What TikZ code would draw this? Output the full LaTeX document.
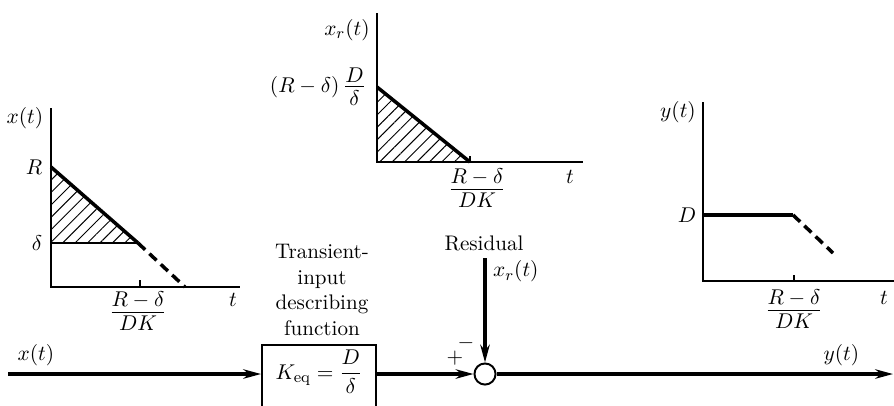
\documentclass[tikz,border=0pt]{standalone}
\usepackage{amsmath}
\usepackage{tikz}
\usetikzlibrary{arrows.meta, patterns.meta}

% tight stacked fraction for the axis marks
\newcommand{\ratio}[2]{\vcenter{\halign{\hfil$##$\hfil\cr #1\cr
    \noalign{\kern1.8pt\hrule height0.45pt\kern1.8pt}#2\cr}}}

\begin{document}
\begin{tikzpicture}[
    x=0.018cm, y=-0.018cm,
    every node/.append style={font=\fontsize{10.8}{13}\selectfont},
    axis/.style={line width=1pt},
    curve/.style={line width=1.8pt},
    dashcurve/.style={line width=1.8pt, dash pattern=on 5pt off 3pt},
    hatch/.style={pattern={Lines[angle=45, distance=4.5pt, line width=0.5pt]}},
    block/.style={rectangle, draw, line width=1pt, minimum width=114*0.018cm,
                  text height=0.5cm, text depth=0.7cm, anchor=base},
    sum/.style={circle, draw, line width=1pt, fill=white, minimum size=0.38cm, inner sep=0pt},
    arrow/.style={-{Stealth[length=3.2mm, width=1.7mm]}, line width=1.6pt},
    lbl/.style={inner sep=1pt}
]
    \path[use as bounding box] (0,0) rectangle (894,405);

    % input plot
    \draw[hatch] (51,167) -- (138,243) -- (51,243) -- cycle;
    \draw[axis] (51,108) -- (51,287) -- (240,287);
    \draw[axis] (140,287) -- (140,280);
    \draw[axis] (51,243) -- (138,243);
    \draw[curve] (51,167) -- (138,243);
    \draw[dashcurve] (138,243) -- (185,287);
    \node[lbl] (xlab)  at (25,118)  {$x(t)$};
    \node[lbl] (rlab)  at (34,167)  {$R$};
    \node[lbl] (dlab)  at (37,243)  {$\delta$};
    \node[lbl] (tx)    at (138,311) {$\ratio{R-\delta}{DK}$};
    \node[lbl] (t1)    at (233,300) {$t$};

    % residual plot
    \draw[hatch] (377,87) -- (470,162) -- (377,162) -- cycle;
    \draw[axis] (377,13) -- (377,162) -- (583,162);
    \draw[curve] (377,87) -- (470,162);
    \draw[axis] (470,162) -- (470,156);
    \node[lbl] (xrlab) at (347,30)  {$x_r(t)$};
    \node[lbl, anchor=east] (r0lab) at (366,87) {$(R-\delta)\;\ratio{D}{\delta}$};
    \node[lbl] (tr)    at (477,188) {$\ratio{R-\delta}{DK}$};
    \node[lbl] (t2)    at (570,177) {$t$};

    % output plot
    \draw[axis] (703,102) -- (703,281) -- (894,281);
    \draw[axis] (794,281) -- (794,275);
    \draw[curve] (703,215) -- (793,215);
    \draw[dashcurve] (793,215) -- (833,253);
    \node[lbl] (ylab)  at (678,112) {$y(t)$};
    \node[lbl] (Dlab)  at (687,215) {$D$};
    \node[lbl] (ty)    at (794,309) {$\ratio{R-\delta}{DK}$};
    \node[lbl] (t3)    at (884,298) {$t$};

    % loop
    \coordinate (in)  at (8,374);
    \coordinate (out) at (893,374);
    \coordinate (res) at (485,258);
    \node[block] (keq) at (319,379) {$K_{\mathrm{eq}} = \dfrac{D}{\delta}$};
    \node[sum]   (sum) at (485,374) {};
    \node[align=center] (tidf) at (322,290) {Transient-\\input\\describing\\function};
    \node (resid) at (484,243) {Residual};

    \draw[arrow] (in) -- node[above, pos=0.11] {$x(t)$} (keq.west |- in);
    \draw[arrow] (keq.east |- sum) -- (sum.west);
    \draw[arrow] (res) -- node[right, pos=0.13] {$x_r(t)$} (sum.north);
    \draw[arrow] (sum.east) -- node[above, pos=0.87] {$y(t)$} (out);
    \node (plus)  at (455,358) {$+$};
    \node (minus) at (466,343) {$-$};
\end{tikzpicture}
\end{document}
